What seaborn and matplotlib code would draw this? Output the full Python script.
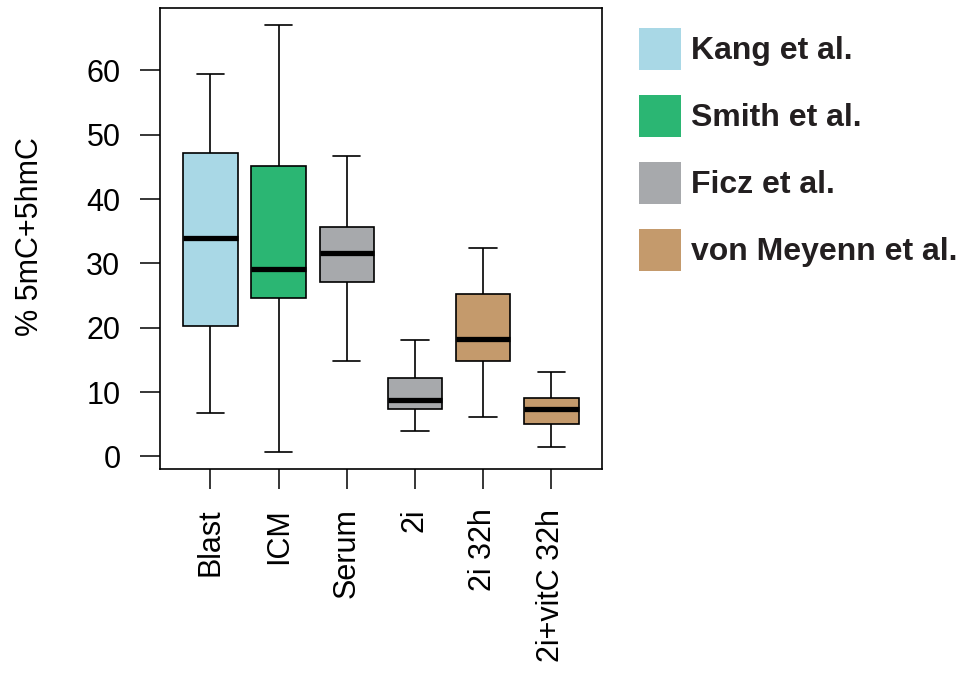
import pandas as pd
import matplotlib
matplotlib.use("Agg")
import matplotlib.pyplot as plt
from matplotlib.patches import Patch
import seaborn as sns

# five-number summaries (min, q1, median, q3, max)
conditions = ["Blast", "ICM", "Serum", "2i", "2i 32h", "2i+vitC 32h"]
mins = [6.8, 0.7, 14.8, 3.9, 6.1, 1.5]
q1s = [20.3, 24.7, 27.1, 7.3, 14.8, 5.0]
medians = [34.0, 29.1, 31.7, 8.8, 18.3, 7.3]
q3s = [47.1, 45.1, 35.6, 12.2, 25.3, 9.1]
maxs = [59.4, 67.0, 46.7, 18.1, 32.4, 13.1]

studies = ["Kang et al.", "Smith et al.", "Ficz et al.", "von Meyenn et al."]
study_colors = ["#A9D8E6", "#2BB673", "#A7A9AC", "#C49A6C"]
condition_study = ["Kang et al.", "Smith et al.", "Ficz et al.", "Ficz et al.",
                   "von Meyenn et al.", "von Meyenn et al."]

# long table: five values per condition give exactly those quartiles
rows = []
for i, c in enumerate(conditions):
    for v in (mins[i], q1s[i], medians[i], q3s[i], maxs[i]):
        rows.append({"condition": c, "value": v})
df = pd.DataFrame(rows)

palette = {c: study_colors[studies.index(s)] for c, s in zip(conditions, condition_study)}

sns.set_style("white")
plt.rcParams["font.family"] = ["Liberation Sans", "DejaVu Sans"]

fig = plt.figure(figsize=(9.6, 6.73), dpi=100)
ax = fig.add_axes([0.1667, 0.3031, 0.4601, 0.6845])

sns.boxplot(data=df, x="condition", y="value", hue="condition", palette=palette,
            order=conditions, saturation=1, width=0.8, whis=(0, 100),
            showfliers=False, linecolor="black", linewidth=1.2, legend=False,
            medianprops={"linewidth": 3.8, "color": "black", "solid_capstyle": "butt"},
            ax=ax)

ax.set_xlim(-0.74, 5.74)
ax.set_ylim(-1.95, 69.65)
ax.set_yticks([0, 10, 20, 30, 40, 50, 60])
ax.set_xlabel("")
ax.set_ylabel("% 5mC+5hmC", fontsize=22, color="black")
ax.yaxis.set_label_coords(-0.261, 0.5036)
ax.tick_params(axis="both", direction="out", length=14.5, width=1.1,
               labelsize=22, colors="black", pad=14, left=True, bottom=True)
plt.setp(ax.get_xticklabels(), rotation=90)
for sp in ax.spines.values():
    sp.set_visible(True)
    sp.set_color("black")
    sp.set_linewidth(1.2)

handles = [Patch(facecolor=c, edgecolor="none") for c in study_colors]
leg = fig.legend(handles, studies, loc="upper left", bbox_to_anchor=(0.6656, 0.9584),
                 frameon=False, prop={"weight": "bold", "size": 23},
                 handlelength=1.31, handleheight=1.646, handletextpad=0.31,
                 labelspacing=0.78, borderpad=0, borderaxespad=0)
for t in leg.get_texts():
    t.set_color("#231F20")

fig.savefig("out.png", dpi=100)
